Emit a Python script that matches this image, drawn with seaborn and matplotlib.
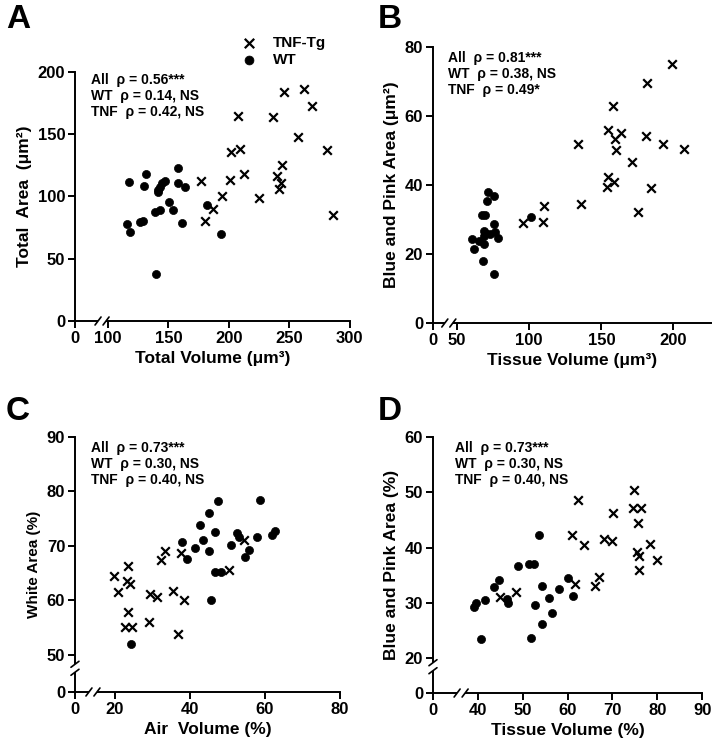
import numpy as np
import pandas as pd
import matplotlib
matplotlib.use("Agg")
import matplotlib.pyplot as plt
import seaborn as sns

sns.set_theme(style="ticks")
plt.rcParams['font.family'] = ['Liberation Sans', 'DejaVu Sans']
plt.rcParams['font.weight'] = 'bold'
plt.rcParams['axes.labelweight'] = 'bold'
plt.rcParams['text.color'] = 'black'
plt.rcParams['axes.labelcolor'] = 'black'
plt.rcParams['xtick.color'] = 'black'
plt.rcParams['ytick.color'] = 'black'
plt.rcParams['axes.edgecolor'] = 'black'

# ---------------- data ----------------
groups = ["TNF-Tg", "WT"]

A_wt_x = [117.4, 131.7, 129.5, 142.8, 145.0, 147.2, 141.4, 141.1, 158.2, 157.9, 163.4, 150.8,
          153.8, 138.6, 143.3, 116.0, 126.2, 129.0, 117.9, 161.0, 181.9, 193.8, 139.4]
A_wt_y = [111.4, 118.1, 108.2, 107.9, 110.6, 112.4, 105.2, 103.3, 123.2, 110.6, 107.9, 95.8,
          89.2, 87.8, 88.9, 77.9, 79.5, 80.3, 71.2, 79.0, 92.9, 69.9, 37.5]
A_tnf_x = [245.4, 261.9, 268.3, 207.6, 236.6, 257.5, 202.0, 209.0, 281.2, 244.3, 240.1, 243.4,
           241.5, 176.7, 201.0, 212.8, 194.6, 224.7, 187.2, 180.6, 286.2]
A_tnf_y = [183.9, 186.3, 172.2, 164.7, 163.6, 147.8, 135.5, 138.4, 137.4, 125.3, 116.5, 110.6,
           105.8, 112.4, 113.3, 118.1, 100.7, 98.5, 89.7, 80.6, 85.1]

B_wt_x = [71.8, 75.9, 70.9, 67.2, 69.7, 75.9, 68.6, 69.7, 76.4, 60.6, 65.1, 69.0, 73.2, 78.2,
          61.7, 68.6, 67.9, 75.9, 101.1]
B_wt_y = [37.9, 36.9, 35.3, 31.3, 31.3, 28.7, 26.7, 26.2, 26.3, 24.4, 23.9, 25.1, 25.8, 24.5,
          21.5, 22.9, 18.1, 14.3, 30.6]
B_tnf_x = [199.3, 181.9, 157.8, 154.6, 163.5, 159.2, 160.1, 181.0, 192.9, 207.1, 133.7, 171.6,
           154.4, 158.7, 154.1, 184.4, 175.5, 136.2, 110.3, 109.6, 95.4]
B_tnf_y = [75.2, 69.6, 62.8, 55.9, 55.1, 53.3, 50.1, 54.2, 51.8, 50.4, 51.8, 46.6,
           42.4, 41.0, 39.5, 39.0, 32.2, 34.4, 34.0, 29.4, 29.1]

C_wt_x = [47.6, 58.8, 45.1, 42.8, 46.6, 52.5, 53.1, 61.8, 62.8, 58.0, 38.0, 43.6, 41.3, 51.0,
          45.2, 55.8, 39.3, 54.8, 46.8, 48.2, 45.7, 24.3]
C_wt_y = [78.3, 78.4, 76.0, 73.9, 72.5, 72.3, 71.6, 72.0, 72.8, 71.6, 70.8, 71.1, 69.7, 70.2,
          69.1, 69.3, 67.7, 68.0, 65.2, 65.2, 60.0, 52.0]
C_tnf_x = [19.3, 23.5, 23.3, 23.9, 20.8, 33.3, 32.2, 37.6, 54.5, 50.3, 29.3, 31.2, 35.6, 38.4,
           23.6, 22.8, 24.6, 29.2, 36.9]
C_tnf_y = [64.5, 66.4, 63.6, 63.0, 61.5, 69.0, 67.4, 68.7, 71.1, 65.5, 61.1, 60.7, 61.8, 60.1,
           57.8, 55.1, 55.1, 56.1, 53.8]

D_wt_x = [36.6, 37.8, 40.6, 41.5, 43.6, 44.6, 46.5, 46.8, 49.0, 51.3, 52.5, 53.7, 54.2, 52.7,
          51.9, 54.3, 55.8, 56.6, 58.1, 60.1, 61.3]
D_wt_y = [29.2, 30.0, 23.5, 30.5, 32.8, 34.1, 30.7, 29.9, 36.7, 37.0, 37.0, 42.3, 33.0, 29.6,
          23.7, 26.1, 30.9, 28.1, 32.5, 34.4, 31.3]
D_tnf_x = [74.9, 62.4, 70.1, 74.5, 76.4, 75.7, 61.0, 63.7, 68.2, 69.9, 78.4, 75.4, 75.9, 80.0,
           76.0, 61.7, 67.1, 66.1, 48.4, 44.8]
D_tnf_y = [50.4, 48.6, 46.2, 47.2, 47.1, 44.5, 42.2, 40.4, 41.6, 41.2, 40.7, 39.2, 38.5, 37.7,
           35.9, 33.4, 34.6, 33.1, 31.9, 31.0]

A_xticks = [0, 100, 150, 200, 250, 300]
A_yticks = [0, 50, 100, 150, 200]
B_xticks = [0, 50, 100, 150, 200]
B_yticks = [0, 20, 40, 60, 80]
C_xticks = [0, 20, 40, 60, 80]
C_yticks = [0, 50, 60, 70, 80, 90]
D_xticks = [0, 40, 50, 60, 70, 80, 90]
D_yticks = [0, 20, 30, 40, 50, 60]

A_stats = ["All  ρ = 0.56***", "WT  ρ = 0.14, NS", "TNF  ρ = 0.42, NS"]
B_stats = ["All  ρ = 0.81***", "WT  ρ = 0.38, NS", "TNF  ρ = 0.49*"]
C_stats = ["All  ρ = 0.73***", "WT  ρ = 0.30, NS", "TNF  ρ = 0.40, NS"]
D_stats = ["All  ρ = 0.73***", "WT  ρ = 0.30, NS", "TNF  ρ = 0.40, NS"]


def frame(wx, wy, tx, ty):
    return pd.DataFrame({
        "x": list(tx) + list(wx),
        "y": list(ty) + list(wy),
        "group": [groups[0]] * len(tx) + [groups[1]] * len(wx),
    })


def brk_funcs(b, c):
    def fwd(v):
        v = np.asarray(v, float)
        return np.where(v < b, v * c, b * c + (v - b))

    def inv(u):
        u = np.asarray(u, float)
        return np.where(u < b * c, u / c, b + (u - b * c))
    return fwd, inv


FIG_W, FIG_H = 714, 746
fig = plt.figure(figsize=(7.14, 7.46), dpi=100)


def add_break(ax, axis, v):
    W = ax.get_window_extent().width
    H = ax.get_window_extent().height
    inv = ax.transAxes.inverted()
    g = 4.0
    if axis == "x":
        xf = inv.transform(ax.transData.transform((v, ax.get_ylim()[0])))[0]
        gx = g / W
        ax.plot([xf - gx, xf + gx], [0, 0], transform=ax.transAxes, color="white",
                lw=3, clip_on=False, zorder=10, solid_capstyle="butt")
        for s in (-gx, gx):
            ax.plot([xf + s - 3 / W, xf + s + 3 / W], [-4 / H, 4 / H], transform=ax.transAxes,
                    color="black", lw=1.2, clip_on=False, zorder=11)
    else:
        yf = inv.transform(ax.transData.transform((ax.get_xlim()[0], v)))[1]
        gy = g / H
        ax.plot([0, 0], [yf - gy, yf + gy], transform=ax.transAxes, color="white",
                lw=3, clip_on=False, zorder=10, solid_capstyle="butt")
        for s in (-gy, gy):
            ax.plot([-4 / W, 4 / W], [yf + s - 3 / H, yf + s + 3 / H], transform=ax.transAxes,
                    color="black", lw=1.2, clip_on=False, zorder=11)


def panel(rect, df, xt, yt, xlim, ylim, xb, yb, xlabel, ylabel, stats, letter, letter_pos,
          stat_pos, xlab_size=12.5, ylab_size=12.5, legend=False):
    ax = fig.add_axes(rect)
    sub_t = df[df.group == groups[0]]
    sub_w = df[df.group == groups[1]]
    sns.scatterplot(data=sub_t, x="x", y="y", marker="x", color="black", s=38,
                    linewidth=1.6, ax=ax, label=groups[0] if legend else None, zorder=3)
    sns.scatterplot(data=sub_w, x="x", y="y", marker="o", color="black", s=34,
                    edgecolor="black", linewidth=0.5, ax=ax,
                    label=groups[1] if legend else None, zorder=3)
    if xb is not None:
        ax.set_xscale("function", functions=brk_funcs(*xb[:2]))
    if yb is not None:
        ax.set_yscale("function", functions=brk_funcs(*yb[:2]))
    ax.set_xlim(*xlim)
    ax.set_ylim(*ylim)
    ax.set_xticks(xt)
    ax.set_yticks(yt)
    ax.set_xticklabels([str(t) for t in xt])
    ax.set_yticklabels([str(t) for t in yt])
    ax.minorticks_off()
    for sp in ["top", "right"]:
        ax.spines[sp].set_visible(False)
    for sp in ["left", "bottom"]:
        ax.spines[sp].set_linewidth(1.4)
        ax.spines[sp].set_color("black")
    ax.tick_params(axis="both", direction="out", length=5, width=1.4, colors="black",
                   labelsize=12, pad=2)
    for lab in ax.get_xticklabels() + ax.get_yticklabels():
        lab.set_fontweight("bold")
    ax.set_xlabel(xlabel, fontsize=xlab_size, fontweight="bold", labelpad=4, color="black")
    ax.set_ylabel(ylabel, fontsize=ylab_size, fontweight="bold", labelpad=4, color="black")
    ax.set_facecolor("white")
    dy = 16.0 / (rect[3] * FIG_H)
    for i, s in enumerate(stats):
        ax.text(stat_pos[0], stat_pos[1] - i * dy, s, transform=ax.transAxes, fontsize=10,
                fontweight="bold", va="top", ha="left", color="black")
    if xb is not None:
        add_break(ax, "x", xb[2])
    if yb is not None:
        add_break(ax, "y", yb[2])
    if legend:
        ax.legend(loc="upper left", bbox_to_anchor=(0.555, 1.17), frameon=False,
                  fontsize=11, handletextpad=0.6, labelspacing=0.2, markerscale=1.1,
                  borderaxespad=0)
        for t in ax.get_legend().get_texts():
            t.set_color("black")
    else:
        if ax.get_legend() is not None:
            ax.get_legend().remove()
    fig.text(letter_pos[0] / FIG_W, 1 - letter_pos[1] / FIG_H, letter, fontsize=24,
             fontweight="bold", va="center", ha="left", color="black")
    return ax


dfA = frame(A_wt_x, A_wt_y, A_tnf_x, A_tnf_y)
dfB = frame(B_wt_x, B_wt_y, B_tnf_x, B_tnf_y)
dfC = frame(C_wt_x, C_wt_y, C_tnf_x, C_tnf_y)
dfD = frame(D_wt_x, D_wt_y, D_tnf_x, D_tnf_y)

panel([0.105, 0.5697, 0.385, 0.334], dfA, A_xticks, A_yticks, (0, 300), (0, 200),
      (100, 0.273, 82), None, "Total Volume (μm³)", "Total  Area  (μm²)", A_stats, "A",
      (6, 19), (0.06, 0.995), legend=True)
panel([0.6064, 0.567, 0.3894, 0.370], dfB, B_xticks, B_yticks, (0, 226), (0, 80),
      (50, 0.333, 33), None, "Tissue Volume (μm³)", "Blue and Pink Area (μm²)", B_stats, "B",
      (378, 19), (0.055, 0.985))
panel([0.105, 0.0724, 0.371, 0.3418], dfC, C_xticks, C_yticks, (0, 80), (0, 90),
      (20, 0.533, 9), (50, 0.136, 32), "Air  Volume (%)", "White Area (%)", C_stats, "C",
      (6, 412), (0.06, 0.985), ylab_size=11)
panel([0.6064, 0.071, 0.377, 0.343], dfD, D_xticks, D_yticks, (0, 90), (0, 60),
      (40, 0.251, 25), (20, 0.318, 15), "Tissue Volume (%)", "Blue and Pink Area (%)", D_stats,
      "D", (378, 412), (0.08, 0.985))

fig.savefig("out.png", dpi=100, facecolor="white")
